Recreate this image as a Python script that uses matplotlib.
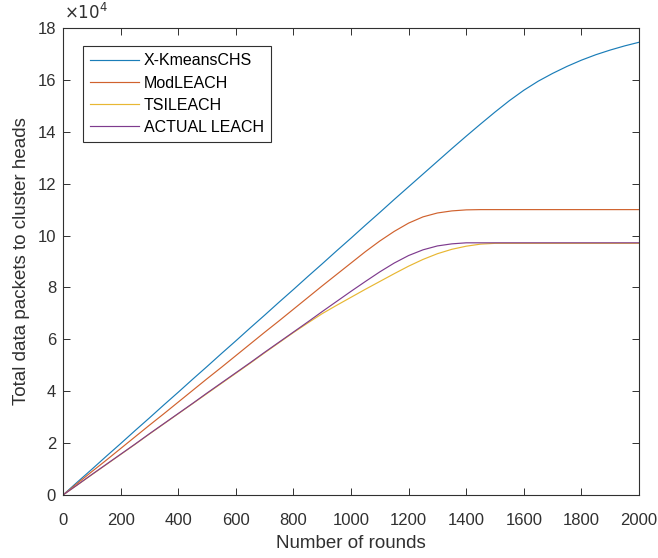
import matplotlib
matplotlib.use("Agg")
import matplotlib.pyplot as plt

plt.rcParams['font.family'] = ['Liberation Sans', 'DejaVu Sans']

# Number of rounds (x axis)
rounds = list(range(0, 2001, 50))

# Total data packets delivered to cluster heads, in units of 1e4
x_kmeans_chs = [0, 0.50, 0.99, 1.49, 1.98, 2.48, 2.97, 3.47, 3.96, 4.46,
                4.95, 5.45, 5.94, 6.44, 6.93, 7.43, 7.92, 8.42, 8.91, 9.41,
                9.90, 10.40, 10.89, 11.39, 11.88, 12.37, 12.86, 13.35, 13.83, 14.30,
                14.76, 15.20, 15.60, 15.95, 16.25, 16.52, 16.76, 16.97, 17.15, 17.31,
                17.45]
mod_leach = [0, 0.45, 0.90, 1.34, 1.79, 2.24, 2.69, 3.13, 3.58, 4.03,
             4.48, 4.92, 5.37, 5.82, 6.27, 6.71, 7.16, 7.61, 8.06, 8.50,
             8.94, 9.38, 9.79, 10.16, 10.48, 10.72, 10.87, 10.95, 10.99, 11.00,
             11.00, 11.00, 11.00, 11.00, 11.00, 11.00, 11.00, 11.00, 11.00, 11.00,
             11.00]
tsi_leach = [0, 0.39, 0.78, 1.17, 1.56, 1.95, 2.35, 2.74, 3.13, 3.52,
             3.91, 4.30, 4.69, 5.08, 5.48, 5.87, 6.26, 6.63, 6.99, 7.31,
             7.62, 7.93, 8.23, 8.53, 8.82, 9.08, 9.30, 9.47, 9.59, 9.67,
             9.70, 9.70, 9.70, 9.70, 9.70, 9.70, 9.70, 9.70, 9.70, 9.70,
             9.70]
actual_leach = [0, 0.39, 0.79, 1.18, 1.57, 1.96, 2.36, 2.75, 3.14, 3.53,
                3.93, 4.32, 4.71, 5.10, 5.50, 5.89, 6.28, 6.67, 7.07, 7.46,
                7.85, 8.23, 8.60, 8.94, 9.23, 9.45, 9.60, 9.68, 9.72, 9.72,
                9.72, 9.72, 9.72, 9.72, 9.72, 9.72, 9.72, 9.72, 9.72, 9.72,
                9.72]

series = [
    ("X-KmeansCHS", x_kmeans_chs, "#1a7db8"),
    ("ModLEACH", mod_leach, "#d0622e"),
    ("TSILEACH", tsi_leach, "#e8b733"),
    ("ACTUAL LEACH", actual_leach, "#7e3b8e"),
]

xticks = list(range(0, 2001, 200))
yticks = list(range(0, 19, 2))

fig = plt.figure(figsize=(6.58, 5.58), dpi=100)
ax = fig.add_axes([63 / 658, 63 / 558, 576 / 658, 467 / 558])

for name, vals, color in series:
    ax.plot(rounds, vals, color=color, lw=0.85, label=name)

axis_color = "#303030"
ax.set_xlim(0, 2000)
ax.set_ylim(0, 18)
ax.set_xticks(xticks)
ax.set_yticks(yticks)
ax.set_xticklabels([str(t) for t in xticks])
ax.set_yticklabels([str(t) for t in yticks])
ax.tick_params(direction="in", length=5, width=0.7, top=True, right=True,
               labelsize=12, colors=axis_color)
ax.tick_params(axis="x", pad=13)
ax.tick_params(axis="y", pad=5)
for sp in ax.spines.values():
    sp.set_color(axis_color)
    sp.set_linewidth(0.8)

ax.text(0.002, 1.012, r"$\times10^4$", transform=ax.transAxes, ha="left",
        va="bottom", fontsize=12, color=axis_color)

ax.set_xlabel("Number of rounds", fontsize=13.5, color=axis_color, labelpad=5)
ax.set_ylabel("Total data packets to cluster heads", fontsize=13.5,
              color=axis_color, labelpad=5)

leg = ax.legend(loc="upper left", bbox_to_anchor=(0.034, 0.961),
                borderaxespad=0, fancybox=False, framealpha=1,
                edgecolor=axis_color, fontsize=11.5, handlelength=3.1,
                handletextpad=0.3, labelspacing=0.45, borderpad=0.45)
leg.get_frame().set_linewidth(0.8)

fig.savefig("out.png", dpi=100, facecolor="white")
